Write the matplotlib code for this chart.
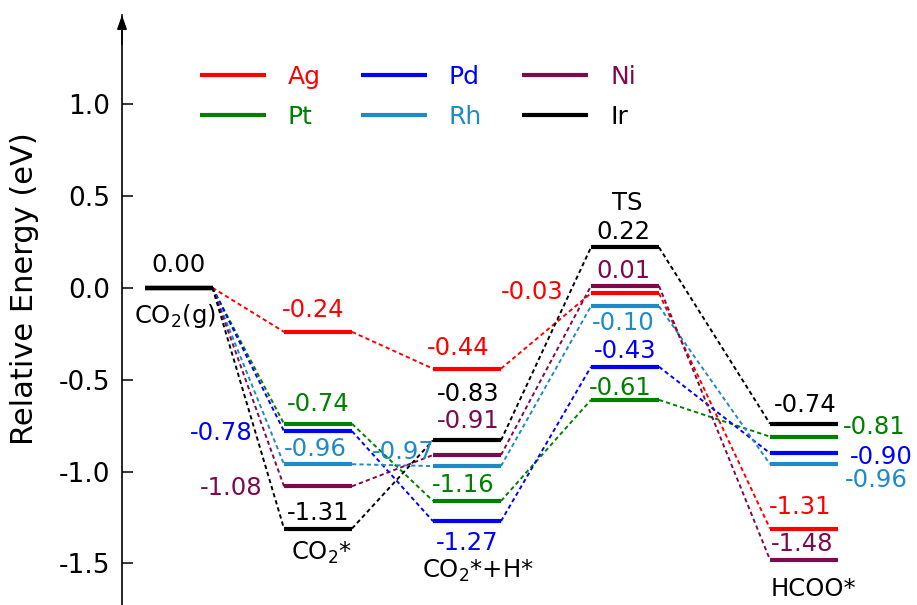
import matplotlib
matplotlib.use("Agg")
import matplotlib.pyplot as plt
from matplotlib.ticker import FormatStrFormatter

plt.rcParams["font.family"] = ["DejaVu Sans"]
plt.rcParams["axes.unicode_minus"] = False
plt.rcParams["mathtext.default"] = "regular"

# ---- data -------------------------------------------------------------
stages = ["CO$_2$(g)", "CO$_2$*", "CO$_2$*+H*", "TS", "HCOO*"]
metals = ["Ag", "Pt", "Pd", "Rh", "Ni", "Ir"]
ag = [0.00, -0.24, -0.44, -0.03, -1.31]
pt = [0.00, -0.74, -1.16, -0.61, -0.81]
pd_ = [0.00, -0.78, -1.27, -0.43, -0.90]
rh = [0.00, -0.96, -0.97, -0.10, -0.96]
ni = [0.00, -1.08, -0.91, 0.01, -1.48]
ir = [0.00, -1.31, -0.83, 0.22, -0.74]
yticks = [-1.5, -1.0, -0.5, 0.0, 0.5, 1.0]

# ---- style / layout ---------------------------------------------------
colors = {"Ag": "#ff0000", "Pt": "#008000", "Pd": "#0000ff",
          "Rh": "#1e8ac8", "Ni": "#7d0a4c", "Ir": "#000000"}
series = dict(zip(metals, [ag, pt, pd_, rh, ni, ir]))

stage_x = [56.5, 196, 345, 503, 682]   # level centres along the path
half = 34                               # half width of a level bar

# label offsets (pixels) from the centre of each level, per stage
label_off = {
    "Ag": [None, (-5, 22), (-9, 21), (-93, 1), (-4, 22)],
    "Pt": [None, (0, 20), (-4, 16), (-5, 12), (70, 10)],
    "Pd": [None, (-97, -2), (0, -22), (0, 16), (77, -4)],
    "Rh": [None, (-3, 15), (-64, 14), (-2, -17), (72, -16)],
    "Ni": [None, (-87, -2), (1, 34), (-2, 15), (-2, 16)],
    "Ir": [(0, 23), (0, 16), (1, 46), (-2, 15), (1, 19)],
}
# stage-name offsets (pixels): anchored to lowest level, or highest for TS
name_off = [(-3, -28), (4, -24), (11, -50), (2, 44), (9, -29)]

W, H = 917, 605
fig = plt.figure(figsize=(W / 100, H / 100), dpi=100)
ax = fig.add_axes([122 / W, 0, (W - 122) / W, (H - 15) / H])
ax.set_xlim(0, W - 122)
ax.set_ylim(-1.726, 1.484)

fs = 17.5
for m in metals:
    vals = series[m]
    c = colors[m]
    for i, v in enumerate(vals):
        x = stage_x[i]
        ax.plot([x - half, x + half], [v, v], color=c, lw=3,
                solid_capstyle="butt", zorder=3,
                label=m if i == 0 else None)
        if i + 1 < len(vals):
            ax.plot([x + half, stage_x[i + 1] - half], [v, vals[i + 1]],
                    color=c, lw=1.4, ls=(0, (2.2, 1.6)), zorder=2)
        off = label_off[m][i]
        if off is not None:
            ax.annotate(f"{v:.2f}", xy=(x, v), xytext=off,
                        textcoords="offset pixels", ha="center",
                        va="center", fontsize=fs, color=c, zorder=4)

# stage names
for i, name in enumerate(stages):
    col = [series[m][i] for m in metals]
    ref = max(col) if name == "TS" else min(col)
    ax.annotate(name, xy=(stage_x[i], ref), xytext=name_off[i],
                textcoords="offset pixels", ha="center", va="center",
                fontsize=fs, color="black")

# axes styling
for s in ("top", "right", "bottom"):
    ax.spines[s].set_visible(False)
ax.spines["left"].set_linewidth(1.2)
ax.set_xticks([])
ax.set_yticks(yticks)
ax.yaxis.set_major_formatter(FormatStrFormatter("%.1f"))
ax.tick_params(axis="y", direction="in", length=8, width=1.1,
               labelsize=19, pad=8.5)
ax.annotate("", xy=(0, 1), xycoords="axes fraction", xytext=(0, 0.95),
            arrowprops=dict(arrowstyle="-|>,head_length=0.86,head_width=0.3",
                            color="black", lw=1.1, shrinkA=0, shrinkB=0),
            annotation_clip=False)

fig.text(25 / W, 1 - 288.5 / H, "Relative Energy (eV)", rotation=90,
         ha="center", va="center", fontsize=22)

ax.legend(ncol=3, loc="upper left", bbox_to_anchor=(0.098, 0.916),
          frameon=False, fontsize=18, handlelength=2.64, handletextpad=0.88,
          columnspacing=1.6, labelspacing=0.64, borderpad=0,
          borderaxespad=0, labelcolor="linecolor")

fig.savefig("out.png", dpi=100)
